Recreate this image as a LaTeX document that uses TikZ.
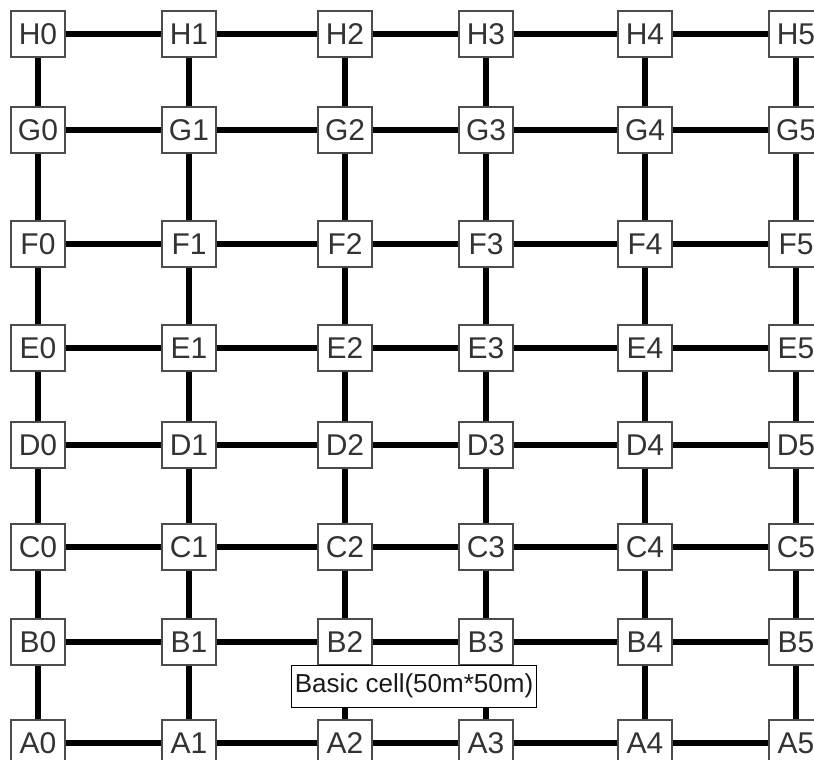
\documentclass[tikz,border=0pt]{standalone}
\usepackage{fontspec}
\setmainfont{Liberation Sans}

\begin{document}
\begin{tikzpicture}[x=0.03cm,y=-0.03cm,
  cell/.style={draw=black!70,line width=1pt,fill=white,text=black!80,
    minimum width=1.62cm,minimum height=1.38cm,inner sep=0pt,
    font=\fontsize{25.6}{30}\selectfont},
  link/.style={line width=5pt},
  note/.style={draw=black,line width=0.8pt,fill=white,text=black!90,
    minimum height=1.26cm,inner xsep=0.1cm,inner ysep=0pt,
    font=\fontsize{22.2}{26}\selectfont}]
  \useasboundingbox (0,0) rectangle (814,760);
  \foreach \r/\y in {A/743,B/642,C/547,D/445,E/348,F/244,G/130,H/34}
    \foreach \c/\x in {0/38,1/189,2/345,3/486,4/645,5/796}
      \node[cell] (\r\c) at (\x,\y) {\r\c};
  \foreach \r in {A,B,C,D,E,F,G,H}
    \foreach \c/\d in {0/1,1/2,2/3,3/4,4/5}
      \draw[link] (\r\c) -- (\r\d);
  \foreach \a/\b in {A/B,B/C,C/D,D/E,E/F,F/G,G/H}
    \foreach \c in {0,...,5}
      \draw[link] (\a\c) -- (\b\c);
  \node[note] (cellsize) at (414,686) {Basic cell(50m*50m)};
\end{tikzpicture}
\end{document}
